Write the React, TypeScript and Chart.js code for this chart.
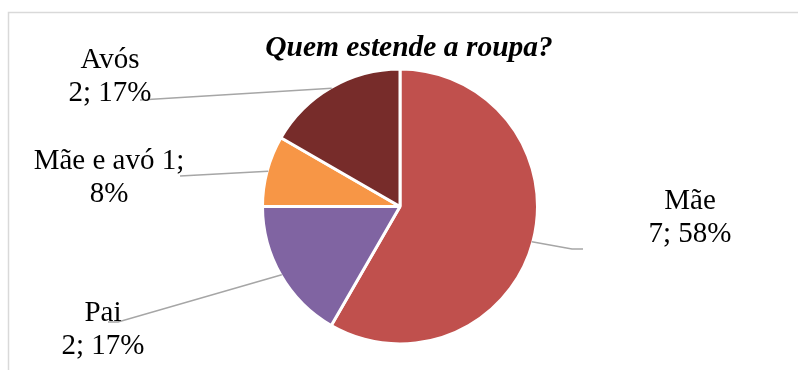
import React, { useEffect, useRef } from "react";
import { Chart, registerables } from "chart.js";

Chart.register(...registerables);

const titleText = "Quem estende a roupa?";
const categories = ["Mãe", "Pai", "Mãe e avó", "Avós"];
const values = [7, 2, 1, 2];
const colors = ["#C0504D", "#8064A2", "#F79646", "#772C2A"];
// how each data label is wrapped: "stacked" = name on first line, "inline" = name and value on first line
const labelWraps = ["stacked", "stacked", "inline", "stacked"];

// label layout (text centre x, first baseline y) and leader-line bend points
const labelLayout = [
  { cx: 690, by: 209, leader: [[572, 249], [583, 249]] },
  { cx: 103, by: 321, leader: [[118, 322], [108, 322]] },
  { cx: 109, by: 169, leader: [[180, 176]] },
  { cx: 110, by: 68, leader: [[140, 100]] },
];

const FONT = '"Liberation Serif", "Times New Roman", serif';

const decorPlugin = {
  id: "decor",
  beforeDraw(chart: any) {
    const ctx = chart.ctx;
    ctx.save();
    ctx.strokeStyle = "#D9D9D9";
    ctx.lineWidth = 1.5;
    ctx.strokeRect(8.5, 12.5, 900, 500);
    ctx.restore();
  },
  afterDatasetsDraw(chart: any) {
    const ctx = chart.ctx;
    const meta = chart.getDatasetMeta(0);
    const data = chart.data.datasets[0].data as number[];
    const total = data.reduce((a, b) => a + b, 0);
    ctx.save();
    meta.data.forEach((arc: any, i: number) => {
      const p = arc.getProps(["x", "y", "startAngle", "endAngle", "outerRadius"], true);
      const mid = (p.startAngle + p.endAngle) / 2;
      const r = p.outerRadius - 1;
      const sx = p.x + Math.cos(mid) * r;
      const sy = p.y + Math.sin(mid) * r;
      const lay = labelLayout[i];
      ctx.strokeStyle = "#A6A6A6";
      ctx.lineWidth = 1.5;
      ctx.beginPath();
      ctx.moveTo(sx, sy);
      lay.leader.forEach((pt) => ctx.lineTo(pt[0], pt[1]));
      ctx.stroke();

      const pct = Math.round((data[i] / total) * 100);
      const lines =
        labelWraps[i] === "inline"
          ? [`${categories[i]} ${data[i]};`, `${pct}%`]
          : [categories[i], `${data[i]}; ${pct}%`];
      ctx.fillStyle = "#000000";
      ctx.font = `29px ${FONT}`;
      ctx.textAlign = "center";
      ctx.textBaseline = "alphabetic";
      lines.forEach((t, k) => ctx.fillText(t, lay.cx, lay.by + k * 33));
    });
    // title
    ctx.font = `bold italic 29.5px ${FONT}`;
    ctx.textAlign = "center";
    ctx.textBaseline = "alphabetic";
    ctx.fillStyle = "#000000";
    ctx.fillText(titleText, 409, 56);
    ctx.restore();
  },
};

export default function App() {
  const ref = useRef<HTMLCanvasElement | null>(null);
  useEffect(() => {
    if (!ref.current) return;
    const chart = new Chart(ref.current, {
      type: "pie",
      data: {
        labels: categories,
        datasets: [
          {
            data: values,
            backgroundColor: colors,
            borderColor: "#FFFFFF",
            borderWidth: 3,
          },
        ],
      },
      options: {
        responsive: false,
        animation: false,
        devicePixelRatio: 1,
        layout: { padding: { top: 67.5, bottom: 24.5, left: 2, right: 0 } },
        plugins: {
          legend: { display: false },
          tooltip: { enabled: false },
          title: { display: false },
        },
      },
      plugins: [decorPlugin],
    });
    return () => chart.destroy();
  }, []);
  return (
    <div style={{ position: "absolute", left: 0, top: 0, width: 798, height: 370, background: "#FFFFFF" }}>
      <canvas ref={ref} width={798} height={370} />
    </div>
  );
}
